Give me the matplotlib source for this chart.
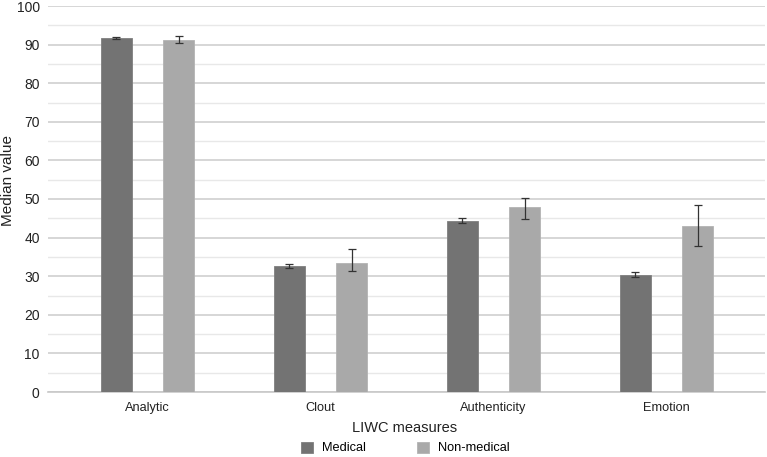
import numpy as np
import matplotlib.pyplot as plt

plt.rcParams["font.family"] = ["Liberation Sans", "DejaVu Sans"]

# ---- data ----
measures = ["Analytic", "Clout", "Authenticity", "Emotion"]

medical = [91.6, 32.6, 44.2, 30.4]
medical_lo = [91.4, 32.1, 43.7, 29.7]
medical_hi = [91.9, 33.1, 45.0, 31.0]

nonmedical = [91.2, 33.5, 47.8, 43.0]
nonmedical_lo = [90.3, 31.3, 44.7, 37.8]
nonmedical_hi = [92.1, 37.0, 50.2, 48.4]

# ---- style ----
C_MED = "#737373"
C_NON = "#a9a9a9"
BAR_W = 0.18

x = np.arange(len(measures))

fig = plt.figure(figsize=(7.67, 4.57), dpi=100)
ax = fig.add_axes([48 / 767, 1 - 392 / 457, 717 / 767, 386 / 457])

med_err = [np.array(medical) - np.array(medical_lo), np.array(medical_hi) - np.array(medical)]
non_err = [np.array(nonmedical) - np.array(nonmedical_lo), np.array(nonmedical_hi) - np.array(nonmedical)]

ax.bar(x - BAR_W, medical, BAR_W, color=C_MED, edgecolor="#7f7f7f", linewidth=0.6,
       label="Medical", zorder=3)
ax.bar(x + BAR_W, nonmedical, BAR_W, color=C_NON, edgecolor="#b3b3b3", linewidth=0.6,
       label="Non-medical", zorder=3)
ax.errorbar(x - BAR_W, medical, yerr=med_err, fmt="none", ecolor="#333333",
            elinewidth=0.9, capsize=3, capthick=0.9, zorder=4)
ax.errorbar(x + BAR_W, nonmedical, yerr=non_err, fmt="none", ecolor="#333333",
            elinewidth=0.9, capsize=3, capthick=0.9, zorder=4)

ax.set_ylim(0, 100)
ax.set_xlim(-0.575, -0.575 + 717 / 173)
ax.set_yticks(np.arange(0, 101, 10))
ax.set_yticks(np.arange(5, 100, 10), minor=True)
ax.set_xticks(x)
ax.set_xticklabels(measures, fontsize=9.2, color="#222222")
ax.tick_params(axis="y", labelsize=10, length=0, pad=6, colors="#222222", which="both")
ax.tick_params(axis="x", length=0, pad=7)

ax.grid(axis="y", which="major", color="#d0d0d0", linewidth=1.2, zorder=0)
ax.grid(axis="y", which="minor", color="#e8e8e8", linewidth=1.0, zorder=0)
ax.set_axisbelow(True)

for s in ["top", "right", "left"]:
    ax.spines[s].set_visible(False)
ax.spines["bottom"].set_color("#c8c8c8")
ax.spines["bottom"].set_linewidth(1.2)

fig.text(405 / 767, 1 - 428 / 457, "LIWC measures", fontsize=10.5, color="#222222",
         ha="center", va="center")
fig.text(8 / 767, 1 - 180 / 457, "Median value", fontsize=11, color="#222222",
         ha="center", va="center", rotation=90)

fig.legend(loc="center", bbox_to_anchor=(405.5 / 767, 1 - 448 / 457), ncol=2,
           frameon=False, fontsize=9.2, handlelength=0.94, handleheight=0.94,
           handletextpad=0.7, columnspacing=4.0, borderpad=0)

plt.savefig("out.png", dpi=100)
plt.close()
